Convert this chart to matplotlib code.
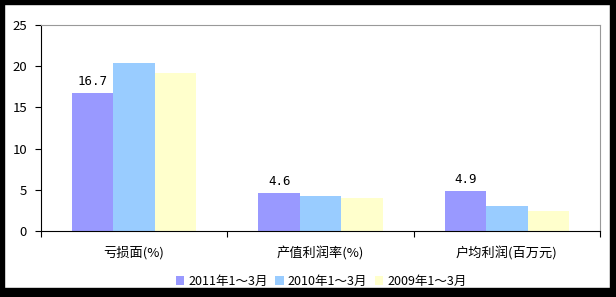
import numpy as np
from matplotlib import pyplot as plt
from matplotlib.patches import Rectangle

categories = ["亏损面(%)", "产值利润率(%)", "户均利润(百万元)"]
series_names = ["2011年1～3月", "2010年1～3月", "2009年1～3月"]
values_2011 = [16.7, 4.6, 4.9]
values_2010 = [20.4, 4.3, 3.0]
values_2009 = [19.2, 4.0, 2.4]
colors = ["#9999FF", "#99CCFF", "#FFFFCC"]

plt.rcParams['font.family'] = ['Noto Sans CJK SC', 'DejaVu Sans']

fig = plt.figure(figsize=(6.16, 2.97), dpi=100)
W, H = 616, 297
ax = fig.add_axes([41 / W, 1 - 231 / H, (600 - 41) / W, (231 - 25) / H])

x = np.arange(len(categories))
bw = 0.222
all_vals = [values_2011, values_2010, values_2009]
for i, (vals, c, name) in enumerate(zip(all_vals, colors, series_names)):
    ax.bar(x + (i - 1) * bw, vals, bw, color=c, label=name, linewidth=0)

# labels on the 2011 series only
for xi, v in zip(x, values_2011):
    ax.text(xi - bw, v + 0.6, f"{v:.1f}", ha="center", va="bottom",
            fontsize=9, family=["DejaVu Sans Mono"])

ax.set_xlim(-0.5, 2.5)
ax.set_ylim(0, 25)
ax.set_yticks([0, 5, 10, 15, 20, 25])
ax.set_xticks([-0.5, 0.5, 1.5, 2.5])
ax.set_xticklabels([])
ax.set_xticks(x, minor=True)
ax.set_xticklabels(categories, minor=True, fontsize=9.5)
ax.tick_params(axis="x", which="minor", length=0, pad=11)
ax.tick_params(axis="x", which="major", length=4, direction="out", color="black")
ax.tick_params(axis="y", length=4, direction="out", labelsize=9.5, pad=6)

ax.spines["left"].set_color("black")
ax.spines["bottom"].set_color("black")
ax.spines["top"].set_color("#999999")
ax.spines["right"].set_color("#999999")

fig.legend(loc="center", bbox_to_anchor=(321 / W, 1 - 281 / H), ncol=3,
           frameon=False, fontsize=9, handlelength=0.7, handleheight=0.7,
           handletextpad=0.3, columnspacing=0.6)

# black frame around the figure
fig.patches.append(Rectangle((0, 0), 4 / W, 1, transform=fig.transFigure, color="black"))
fig.patches.append(Rectangle((0, 1 - 4 / H), 1, 4 / H, transform=fig.transFigure, color="black"))
fig.patches.append(Rectangle((1 - 6 / W, 0), 6 / W, 1, transform=fig.transFigure, color="black"))
fig.patches.append(Rectangle((0, 0), 1, 9 / H, transform=fig.transFigure, color="black"))

plt.savefig("out.png", dpi=100)
